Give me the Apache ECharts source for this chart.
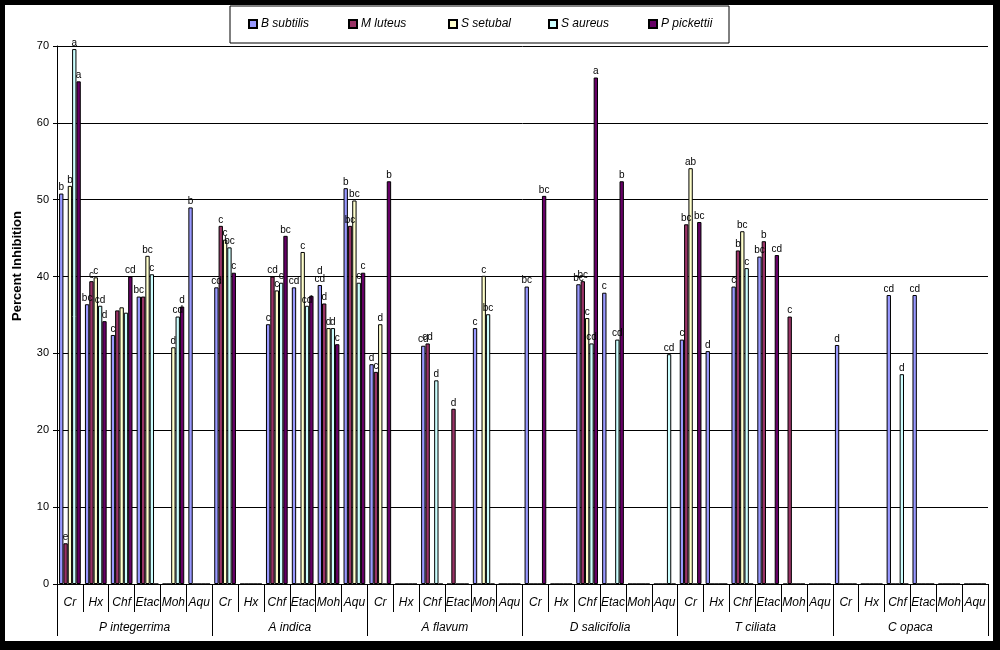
<!DOCTYPE html>
<html lang="en">
<head>
    <meta charset="UTF-8">
    <title>Percent Inhibition</title>
    <script src="https://cdn.jsdelivr.net/npm/echarts@6/dist/echarts.min.js"></script>
    <style>
        body{margin:0;background:#000;}
        #chart{position:absolute;left:5px;top:5px;width:988px;height:636px;background:#fff;}
    </style>
</head>
<body>
<div id="chart"></div>
<script>
    var plants=['P integerrima','A indica','A flavum','D salicifolia','T ciliata','C opaca'];
    var extracts=['Cr','Hx','Chf','Etac','Moh','Aqu'];
    var seriesNames=['B subtilis','M luteus','S setubal','S aureus','P pickettii'];
    var colors=['#9999FF','#993366','#FFFFCC','#CCFFFF','#660066'];

    // one value per extract, grouped by plant
    var bSubtilis=[50.8,36.4,32.4,37.4,0,49.0, 38.6,0,33.8,38.6,38.9,51.5, 28.6,0,31.0,0,33.3,0,
        38.7,0,39.0,37.9,0,0, 31.8,30.3,38.7,42.6,0,0, 31.1,0,37.6,37.6,0,0];
    var mLuteus=[5.3,39.4,35.6,37.4,0,0, 46.6,0,40.0,0,36.5,46.6, 27.6,0,31.3,22.8,0,0,
        0,0,39.4,0,0,0, 46.8,0,43.4,44.6,34.8,0, 0,0,0,0,0,0];
    var sSetubal=[51.8,39.9,36.0,42.7,30.8,0, 44.8,0,38.2,43.2,33.3,49.9, 33.8,0,0,0,40.1,0,
        0,0,34.6,0,0,0, 54.1,0,45.9,0,0,0, 0,0,0,0,0,0];
    var sAureus=[69.6,36.2,35.3,40.3,34.8,0, 43.8,0,39.2,36.2,33.3,39.2, 0,0,26.5,0,35.1,0,
        0,0,31.3,31.8,0,29.9, 0,0,41.1,0,0,0, 0,0,27.3,0,0,0];
    var pPickettii=[65.4,34.2,40.0,0,36.1,0, 40.5,0,45.3,37.5,31.2,40.5, 52.4,0,0,0,0,0,
        50.5,0,65.9,52.4,0,0, 47.1,0,0,42.8,0,0, 0,0,0,0,0,0];

    // significance letters shown over the bars
    var bLabels=['b','bc','c','bc','','b', 'cd','','c','cd','d\ncd','b', 'd','','cd','','c','',
        'bc','','bc','c','','', 'c','d','c','bc','','', 'd','','cd','cd','',''];
    var mLabels=['e','c','','','','', 'c','','cd','','d','bc', 'c','','cd','d','','',
        '','','bc','','','', 'bc','','b','b','c','', '','','','','',''];
    var sLabels=['b','c','','bc','d','', 'c','','c','c','d','bc', 'd','','','','c','',
        '','','c','','','', 'ab','','bc','','','', '','','','','',''];
    var aLabels=['a','cd','','c','cd','', 'bc','','c','cd','d','c', '','','d','','bc','',
        '','','cd','cd','','cd', '','','c','','','', '','','d','','',''];
    var pLabels=['a','d','cd','','d','', 'c','','bc','','c','c', 'b','','','','','',
        'bc','','a','b','','', 'bc','','','cd','','', '','','','','',''];

    var yTicks=[0,10,20,30,40,50,60,70];

    var font='Arial, "Liberation Sans", sans-serif';

    function makeSeries(name,color,values,labels) {
        return {
            name:name,
            type:'bar',
            data:values,
            barGap:'0%',
            barCategoryGap:'16%',
            itemStyle:{color:color,borderColor:'#000',borderWidth:1},
            label:{
                show:true,
                position:'top',
                distance:2,
                fontFamily:font,
                fontSize:10,
                lineHeight:8,
                color:'#000',
                formatter:function (p) {
                    return labels[p.dataIndex];
                }
            }
        };
    }

    var cats=[];
    for(var i=0;i<plants.length;i++){
        for(var k=0;k<extracts.length;k++){
            cats.push(extracts[k]);
        }
    }

    // one legend per series so the items sit 100px apart like the original
    var legends=[];
    for(var m=0;m<seriesNames.length;m++){
        legends.push({
            data:[seriesNames[m]],
            left:243+m*100,
            top:13,
            padding:0,
            itemWidth:8,
            itemHeight:8,
            itemGap:4,
            icon:'rect',
            z:5,
            textStyle:{fontFamily:font,fontSize:12,fontStyle:'italic',color:'#000',padding:[0,0,0,-1]}
        });
    }

    var option={
        animation:false,
        textStyle:{fontFamily:font},
        graphic:[
            {
                type:'rect',
                shape:{x:225,y:1,width:499,height:37},
                style:{fill:'#fff',stroke:'#000',lineWidth:1},
                z:1
            },
            {
                type:'text',
                x:12,
                y:261,
                rotation:Math.PI/2,
                style:{
                    text:'Percent Inhibition',
                    font:'bold 13px '+font,
                    fill:'#000',
                    textAlign:'center',
                    textVerticalAlign:'middle'
                }
            }
        ],
        legend:legends,
        grid:{left:52,top:41,right:5,bottom:57,containLabel:false},
        xAxis:[
            {
                type:'category',
                data:cats,
                axisLine:{lineStyle:{color:'#000',width:1}},
                axisTick:{show:true,interval:0,length:28,lineStyle:{color:'#000'}},
                axisLabel:{interval:0,margin:13,fontSize:12,fontStyle:'italic',color:'#000',fontFamily:font}
            },
            {
                type:'category',
                data:plants,
                position:'bottom',
                axisLine:{show:false},
                axisTick:{show:true,interval:0,length:52,lineStyle:{color:'#000'}},
                axisLabel:{interval:0,margin:38,fontSize:12,fontStyle:'italic',color:'#000',fontFamily:font}
            }
        ],
        yAxis:{
            type:'value',
            min:yTicks[0],
            max:yTicks[yTicks.length-1],
            interval:10,
            axisLine:{show:true,lineStyle:{color:'#000'}},
            axisTick:{show:true,length:4,lineStyle:{color:'#000'}},
            axisLabel:{margin:8,fontSize:11,color:'#000',fontFamily:font},
            splitLine:{lineStyle:{color:'#000',width:1}}
        },
        series:[
            makeSeries(seriesNames[0],colors[0],bSubtilis,bLabels),
            makeSeries(seriesNames[1],colors[1],mLuteus,mLabels),
            makeSeries(seriesNames[2],colors[2],sSetubal,sLabels),
            makeSeries(seriesNames[3],colors[3],sAureus,aLabels),
            makeSeries(seriesNames[4],colors[4],pPickettii,pLabels)
        ]
    };
    var chart=echarts.init(document.getElementById('chart'));
    chart.setOption(option);
</script>
</body>
</html>
